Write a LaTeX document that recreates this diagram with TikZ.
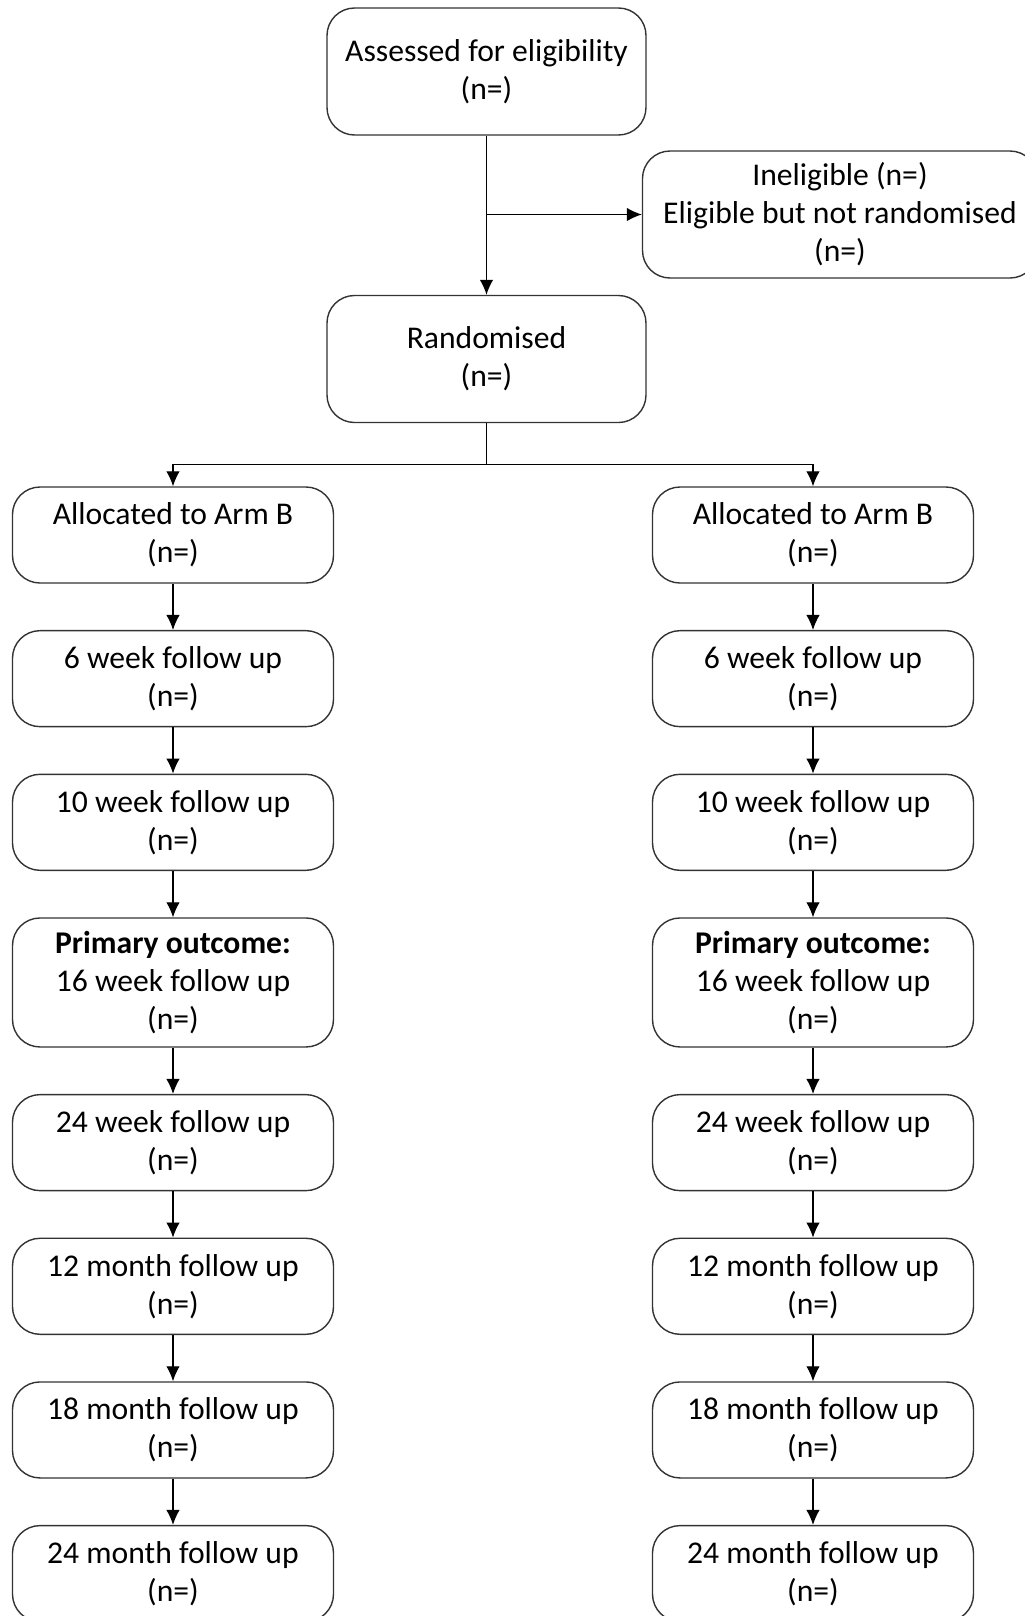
\documentclass[tikz,border=0pt]{standalone}
\usepackage{fontspec}
\setmainfont{Carlito}
\usetikzlibrary{arrows.meta, positioning}
\tikzset{
  box/.style = {draw=black!80, line width=0.8pt, rounded corners=0.55cm,
    align=center, inner sep=2pt, minimum width=6.42cm, minimum height=1.92cm,
    font=\fontsize{18}{21.6}\selectfont},% ordinary stage
  bigbox/.style = {box, minimum width=6.38cm, minimum height=2.54cm},% top boxes
  tallbox/.style = {box, minimum height=2.58cm},% primary outcome
  flow/.style = {draw=black, line width=0.7pt,
    -{Latex[length=0.3cm, width=0.27cm]}}
}
\begin{document}
\begin{tikzpicture}[node distance=0.925cm]
  \useasboundingbox (0,0) rectangle (20.5,-32.32);
  % screening
  \node (assess) [bigbox] at (9.73,-1.43) {Assessed for eligibility\\(n=)};
  \node (inel) [bigbox, minimum width=7.9cm] at (16.8,-4.29)
      {Ineligible (n=)\\Eligible but not randomised\\(n=)};
  \node (rand) [bigbox] at (9.73,-7.18) {Randomised\\(n=)};
  % left arm
  \node (la1) [box] at (3.46,-10.7) {Allocated to Arm B\\(n=)};
  \node (la2) [box, below=of la1] {6 week follow up\\(n=)};
  \node (la3) [box, below=of la2] {10 week follow up\\(n=)};
  \node (la4) [tallbox, below=of la3]
      {\textbf{Primary outcome:}\\16 week follow up\\(n=)};
  \node (la5) [box, below=of la4] {24 week follow up\\(n=)};
  \node (la6) [box, below=of la5] {12 month follow up\\(n=)};
  \node (la7) [box, below=of la6] {18 month follow up\\(n=)};
  \node (la8) [box, below=of la7] {24 month follow up\\(n=)};
  % right arm
  \node (rb1) [box] at (16.26,-10.7) {Allocated to Arm B\\(n=)};
  \node (rb2) [box, below=of rb1] {6 week follow up\\(n=)};
  \node (rb3) [box, below=of rb2] {10 week follow up\\(n=)};
  \node (rb4) [tallbox, below=of rb3]
      {\textbf{Primary outcome:}\\16 week follow up\\(n=)};
  \node (rb5) [box, below=of rb4] {24 week follow up\\(n=)};
  \node (rb6) [box, below=of rb5] {12 month follow up\\(n=)};
  \node (rb7) [box, below=of rb6] {18 month follow up\\(n=)};
  \node (rb8) [box, below=of rb7] {24 month follow up\\(n=)};

  \draw [flow] (assess) -- (rand);
  \draw [flow] (assess.south |- inel.west) -- (inel.west);
  \draw [line width=0.7pt] (rand.south) -- ++(0,-0.82) coordinate (split);
  \draw [flow] (split) -| (la1.north);
  \draw [flow] (split) -| (rb1.north);
  \foreach \a/\b in {1/2, 2/3, 3/4, 4/5, 5/6, 6/7, 7/8} {
    \draw [flow] (la\a) -- (la\b);
    \draw [flow] (rb\a) -- (rb\b);
  }
\end{tikzpicture}
\end{document}
